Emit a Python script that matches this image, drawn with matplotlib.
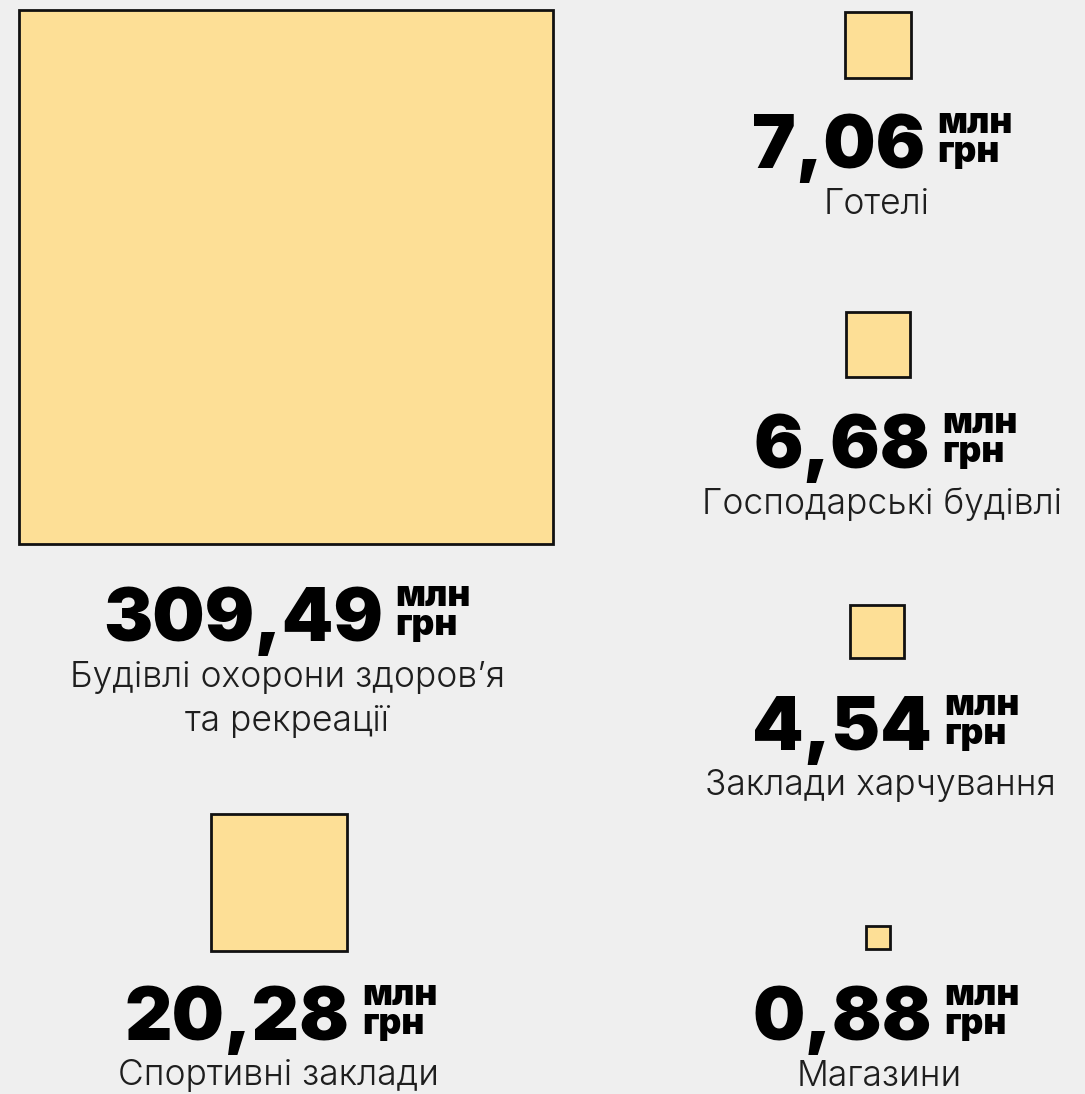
import matplotlib
matplotlib.use("Agg")
import matplotlib.pyplot as plt
from matplotlib.patches import Rectangle
import numpy as np

# ---- data ----
categories = ["Будівлі охорони здоров’я\nта рекреації", "Спортивні заклади",
              "Готелі", "Господарські будівлі", "Заклади харчування", "Магазини"]
values = [309.49, 20.28, 7.06, 6.68, 4.54, 0.88]
value_labels = ["309,49", "20,28", "7,06", "6,68", "4,54", "0,88"]
unit_lines = ["млн", "грн"]

# ---- layout (pixels, y downward) ----
W, H = 1085, 1094
sq_x = [286, 279, 878, 878, 877, 878]            # square centre x
num_x = [287, 281, 882, 886, 886, 886]           # number block centre x
lab_x = [287, 279, 877, 882, 880, 879]           # label centre x
baseline_y = [641, 1040, 168, 468, 750, 1040]    # number baseline
col_scale = [30.35, 30.35, 25.0, 25.0, 25.0, 25.0]  # px per sqrt(value)
sq_gap = [97, 89, 90, 91, 92, 91]                # square bottom above baseline

BG = "#efefef"
FILL = "#fddf96"

fig = plt.figure(figsize=(W / 100, H / 100), dpi=100, facecolor=BG)
ax = fig.add_axes([0, 0, 1, 1])
ax.set_xlim(0, W)
ax.set_ylim(H, 0)
ax.set_facecolor(BG)
ax.axis("off")

fig.canvas.draw()
renderer = fig.canvas.get_renderer()


def text_width(t):
    return t.get_window_extent(renderer=renderer).width


for i, v in enumerate(values):
    side = col_scale[i] * np.sqrt(v)
    bottom = baseline_y[i] - sq_gap[i]
    ax.add_patch(Rectangle((sq_x[i] - side / 2, bottom - side), side, side,
                           facecolor=FILL, edgecolor="#111111", linewidth=2.0))
    # number + units, block centred on num_x
    num = ax.text(0, baseline_y[i], value_labels[i], family="Inter", weight=900,
                  fontsize=53, color="black", ha="left", va="baseline")
    u1 = ax.text(0, baseline_y[i] - 35, unit_lines[0], family="Inter", weight=900,
                 fontsize=25.5, color="black", ha="left", va="baseline")
    u2 = ax.text(0, baseline_y[i] - 6, unit_lines[1], family="Inter", weight=900,
                 fontsize=25.5, color="black", ha="left", va="baseline")
    wn = text_width(num)
    wu = max(text_width(u1), text_width(u2))
    gap = 12
    x0 = num_x[i] - (wn + gap + wu) / 2
    num.set_x(x0)
    u1.set_x(x0 + wn + gap)
    u2.set_x(x0 + wn + gap)
    # category label
    for j, line in enumerate(categories[i].split("\n")):
        ax.text(lab_x[i], baseline_y[i] + 36 + j * 45, line,
                family="Inter", weight=300, fontsize=25.5, color="#1e1e1e",
                ha="center", va="center")

fig.savefig("out.png", dpi=100, facecolor=BG)
